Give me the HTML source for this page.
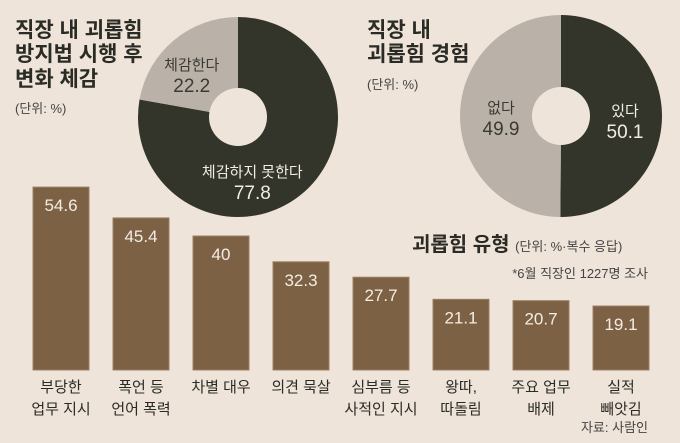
<!DOCTYPE html>
<html><head><meta charset="utf-8"><style>
body{margin:0;background:#efe4d9;}
svg{display:block;font-family:"Liberation Sans","Noto Sans CJK KR",sans-serif;}
</style></head><body>
<svg width="680" height="443" viewBox="0 0 680 443">
<rect width="680" height="443" fill="#efe4d9"/>
<g font-size="21" fill="#2b2b25" font-weight="bold">
<text x="15" y="37">직장 내 괴롭힘</text><text x="15" y="61">방지법 시행 후</text><text x="15" y="86">변화 체감</text>
</g>
<text x="15" y="113" font-size="13" fill="#444">(단위: %)</text>
<g id="pie1"></g>
<g font-size="21" fill="#2b2b25" font-weight="bold">
<text x="367" y="37">직장 내</text><text x="367" y="61">괴롭힘 경험</text>
</g>
<text x="367" y="89" font-size="13" fill="#444">(단위: %)</text>
<g id="pie2"></g>
<g id="bars"></g>
<text x="412" y="251" font-size="20" font-weight="bold" fill="#2b2b25">괴롭힘 유형 <tspan font-size="13" font-weight="normal" fill="#444">(단위: %·복수 응답)</tspan></text>
<text x="648" y="278" text-anchor="end" font-size="13" fill="#444">*6월 직장인 1227명 조사</text>
<text x="648" y="432" text-anchor="end" font-size="13" fill="#444">자료: 사람인</text>
</svg>
<script>
const pie1Labels=["체감하지 못한다","체감한다"];
const pie1Values=[77.8,22.2];
const pie2Labels=["있다","없다"];
const pie2Values=[50.1,49.9];
const barCats=[["부당한","업무 지시"],["폭언 등","언어 폭력"],["차별 대우"],["의견 묵살"],["심부름 등","사적인 지시"],["왕따,","따돌림"],["주요 업무","배제"],["실적","빼앗김"]];
const barValues=[54.6,45.4,40,32.3,27.7,21.1,20.7,19.1];
const NS="http://www.w3.org/2000/svg";
function mk(t,a,p){const e=document.createElementNS(NS,t);for(const k in a)e.setAttribute(k,a[k]);p.appendChild(e);return e;}
function arc(cx,cy,r,a0,a1){const p=(a)=>[cx+r*Math.sin(a),cy-r*Math.cos(a)];const[x0,y0]=p(a0),[x1,y1]=p(a1);return `M${cx},${cy}L${x0},${y0}A${r},${r} 0 ${a1-a0>Math.PI?1:0} 1 ${x1},${y1}Z`;}
function pie(g,vals,labels,cx,cy,r,hole,colors,tcolors,lrs,offs){
  const tot=vals.reduce((a,b)=>a+b,0);let a=0;
  vals.forEach((v,i)=>{const a1=a+v/tot*2*Math.PI;
    const s=mk('path',{d:arc(cx,cy,r,a,a1),fill:colors[i]},g);
    
    
    a=a1;});
  if(hole){const h=mk('circle',{cx,cy,r:hole,fill:'#efe4d9'},g);}
  a=0;
  vals.forEach((v,i)=>{const a1=a+v/tot*2*Math.PI;
    const m=(a+a1)/2;const lx=cx+lrs[i]*Math.sin(m)+offs[i][0],ly=cy-lrs[i]*Math.cos(m)+offs[i][1];
    const t1=mk('text',{x:lx,y:ly-6,'text-anchor':'middle','font-size':15,fill:tcolors[i]},g);t1.textContent=labels[i];
    
    
    const t2=mk('text',{x:lx,y:ly+16,'text-anchor':'middle','font-size':19,fill:tcolors[i]},g);t2.textContent=vals[i];
    
    
    a=a1;});
}
pie(document.getElementById('pie1'),pie1Values,pie1Labels,238,117,100,29,['#33352a','#bab2a9'],['#f2ece4','#3a3a34'],[55,72],[[-21,24],[0,14]]);
pie(document.getElementById('pie2'),pie2Values,pie2Labels,561,116,101,29,['#33352a','#bab2a9'],['#f2ece4','#3a3a34'],[64,60],[[0,6],[0,3]]);
const bg=document.getElementById('bars');
const base=370,scale=3.35,x0=33,step=80,bw=56;
barValues.forEach((v,i)=>{const x=x0+i*step,h=v*scale;
  const r=mk('rect',{x,y:base-h,width:bw,height:h,fill:'#7d6145',stroke:'#9b8066','stroke-width':1},bg);
  
  
  const t=mk('text',{x:x+bw/2,y:base-h+24,'text-anchor':'middle','font-size':17,fill:'#f4ede4'},bg);t.textContent=v;
  
  
  barCats[i].forEach((l,j)=>{const c=mk('text',{x:x+bw/2,y:392+j*22,'text-anchor':'middle','font-size':15,fill:'#2b2b25'},bg);c.textContent=l;
    
    });
});
</script>
</body></html>
